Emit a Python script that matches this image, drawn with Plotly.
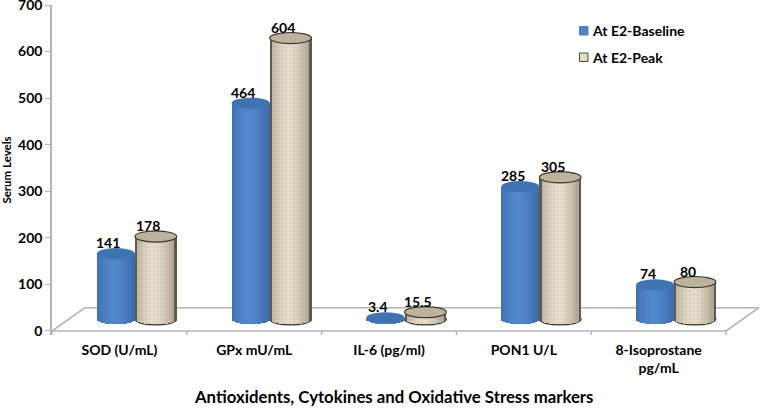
import math
import plotly.graph_objects as go

categories = ["SOD (U/mL)", "GPx mU/mL", "IL-6 (pg/ml)", "PON1 U/L", "8-Isoprostane<br>pg/mL"]
series_names = ["At E2-Baseline", "At E2-Peak"]
baseline = [141, 464, 3.4, 285, 74]
peak = [178, 604, 15.5, 305, 80]
baseline_labels = ["141", "464", "3.4", "285", "74"]
peak_labels = ["178", "604", "15.5", "305", "80"]
y_ticks = [0, 100, 200, 300, 400, 500, 600, 700]
x_title = "Antioxidents, Cytokines and Oxidative Stress markers"

FONT = "Lato"
FLOOR = 25      # the cylinders stand on the 3-D floor, above the front axis line
CAP = 12        # half height of an end ellipse, in axis units
N = 18
XMAX = (761 - 52) / 134.8
DEPTH_X, DEPTH_Y = 0.245, 50
Y_BOTTOM = -8.6
TOP, PLOT_H = 5, 330


def mix(a, b, t):
    return "rgb(%d,%d,%d)" % tuple(round(a[i] + (b[i] - a[i]) * t) for i in range(3))


styles = [
    dict(values=baseline, labels=baseline_labels, x0=0.333, x1=0.615,
         edge=(60, 108, 172), mid=(82, 136, 204), cap="#3f73b2", line=None, texture=False),
    dict(values=peak, labels=peak_labels, x0=0.615, x1=0.925,
         edge=(170, 162, 140), mid=(236, 229, 212), cap="#bdb39c", line="#3a3630", texture=True),
]

fig = go.Figure()
shapes = []
annotations = []
centers = list(range(len(categories)))

# floor and front axis line
grey = "#b4b4b4"
x_end = len(categories)
for (xa, ya, xb, yb) in [(0, 0, x_end, 0), (0, 0, DEPTH_X, DEPTH_Y),
                         (DEPTH_X, DEPTH_Y, x_end + DEPTH_X, DEPTH_Y),
                         (x_end, 0, x_end + DEPTH_X, DEPTH_Y)]:
    shapes.append(dict(type="line", xref="x", yref="y", x0=xa, y0=ya, x1=xb, y1=yb,
                       layer="below", line=dict(color=grey, width=1.6)))
for i in range(x_end + 1):
    shapes.append(dict(type="line", xref="x", yref="y", x0=i, x1=i, y0=0, y1=Y_BOTTOM,
                       layer="below", line=dict(color=grey, width=1.4)))

for s in styles:
    w = (s["x1"] - s["x0"]) / N
    for k in range(N):
        t = (k + 0.5) / N
        u = 2 * t - 1
        sag = CAP * math.sqrt(max(0, 1 - u * u))
        shade = 1 - abs(u + 0.1) ** 1.6
        colour = mix(s["edge"], s["mid"], max(0, min(1, shade)))
        if s["line"] and k in (0, N - 1):
            colour = "#5f5a50"
        marker = dict(color=colour, line=dict(width=0))
        if s["texture"] and 0 < k < N - 1:
            marker["pattern"] = dict(shape="+", size=4, solidity=0.3, fgcolor="#b0a68e", bgcolor=colour)
        fig.add_trace(go.Bar(
            x=centers, y=[v + sag * 0.9 for v in s["values"]],
            base=[FLOOR - sag * 0.9] * len(centers),
            width=w * 1.05, offset=s["x0"] + k * w,
            marker=marker, showlegend=False, hoverinfo="skip",
        ))
    for i, v in enumerate(s["values"]):
        if s["line"]:
            shapes.append(dict(type="circle", xref="x", yref="y", layer="below",
                               x0=i + s["x0"], x1=i + s["x1"], y0=FLOOR - CAP, y1=FLOOR + CAP,
                               fillcolor="#d8cfb8", line=dict(color=s["line"], width=1.2)))
        shapes.append(dict(type="circle", xref="x", yref="y", layer="above",
                           x0=i + s["x0"], x1=i + s["x1"], y0=v + FLOOR - CAP, y1=v + FLOOR + CAP,
                           fillcolor=s["cap"],
                           line=dict(color=s["line"] or s["cap"], width=1.2 if s["line"] else 0)))
        annotations.append(dict(x=i + (s["x0"] + s["x1"]) / 2 - 0.055, y=v + FLOOR, xref="x", yref="y",
                                text=s["labels"][i], showarrow=False, yshift=11, yanchor="middle",
                                font=dict(family=FONT, size=14, color="black", weight=700)))

# legend
for name, colour, edge, top in [(series_names[0], "#4f81bd", "#4f81bd", 31),
                                (series_names[1], "#e4dcc6", "#4a4a44", 57.5)]:
    shapes.append(dict(type="rect", xref="paper", yref="paper", layer="above",
                       x0=(579.5 - 52) / (761 - 52), x1=(588 - 52) / (761 - 52),
                       y0=1 - (top + 4 - TOP) / PLOT_H, y1=1 - (top - 4.5 - TOP) / PLOT_H,
                       fillcolor=colour, line=dict(color=edge, width=1)))
    annotations.append(dict(x=(589.5 - 52) / (761 - 52), y=1 - (top - TOP) / PLOT_H, xref="paper", yref="paper",
                            text=name, showarrow=False, xanchor="left", yanchor="middle",
                            font=dict(family=FONT, size=14, color="black", weight=700)))

# axis title, centred under the drawing as in the reference
annotations.append(dict(x=(393.5 - 52) / (761 - 52), y=1 - (396 - TOP) / PLOT_H, xref="paper", yref="paper",
                        text=x_title, showarrow=False, xanchor="center", yanchor="middle",
                        font=dict(family=FONT, size=16.75, color="black", weight=700)))

fig.update_layout(
    width=761, height=410,
    margin=dict(l=52, r=0, t=TOP, b=75),
    barmode="overlay", bargap=0,
    plot_bgcolor="white", paper_bgcolor="white",
    showlegend=False,
    shapes=shapes, annotations=annotations,
    xaxis=dict(range=[0, XMAX], tickmode="array", tickvals=[i + 0.5 for i in centers], ticktext=categories,
               ticks="", showgrid=False, zeroline=False, showline=False, ticklabelstandoff=5,
               automargin=False,
               tickfont=dict(family=FONT, size=14, color="black", weight=700)),
    yaxis=dict(range=[Y_BOTTOM, 700], tickmode="array", tickvals=y_ticks, ticks="outside", ticklen=5,
               tickcolor=grey, tickwidth=1.4, showline=True, linecolor=grey, linewidth=1.6,
               showgrid=False, zeroline=False, ticklabeloverflow="allow", automargin=False,
               tickfont=dict(family=FONT, size=14, color="black", weight=700),
               title=dict(text="Serum Levels", standoff=8,
                          font=dict(family=FONT, size=11.5, color="black", weight=700))),
)
fig.write_html("out.html", config=dict(displayModeBar=False),
               post_script="document.body.style.margin='0';")
